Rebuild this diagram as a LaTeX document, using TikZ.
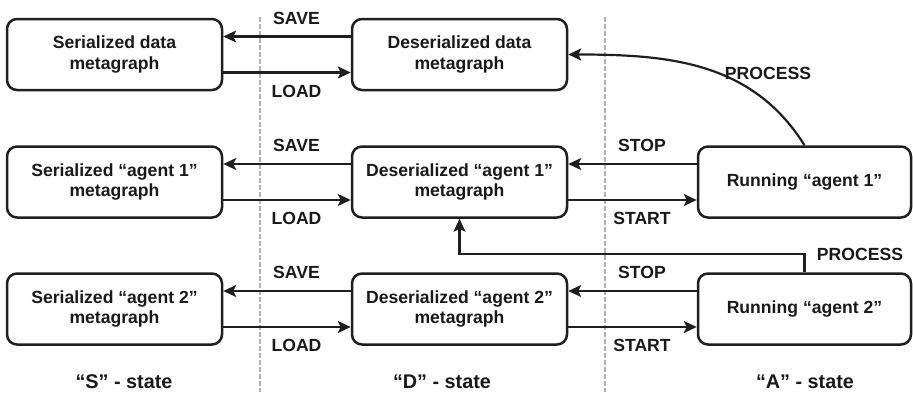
\documentclass[tikz,border=0pt]{standalone}
\usepackage{fontspec}
\setmainfont{Liberation Sans}
\usetikzlibrary{arrows.meta,calc}
\begin{document}
\begin{tikzpicture}[x=1pt,y=-1pt,
  txt/.style={font=\bfseries\fontsize{17.6}{20.5}\selectfont, text=black!90},
  box/.style={txt, draw=black!88, line width=2.5pt, rounded corners=10pt,
    minimum width=215pt, minimum height=71pt, align=center, inner sep=0pt},
  lbl/.style={txt, inner sep=0pt},
  big/.style={lbl, font=\bfseries\fontsize{19.8}{23}\selectfont},
  arr/.style={draw=black!88, line width=2.2pt, -{Stealth[length=13pt,width=12pt,inset=3pt]}},
  sep/.style={draw=black!30, line width=2.6pt, dash pattern=on 4.5pt off 2.5pt}]
\useasboundingbox (0,0) rectangle (913,392);

% separators
\coordinate (t1) at (260,17); \coordinate (b1) at (260,392);
\coordinate (t2) at (605,17); \coordinate (b2) at (605,392);
\draw[sep] (t1) -- (b1);
\draw[sep] (t2) -- (b2);

% boxes
\node[box] (S1) at (114.5,54.5) {Serialized data\\metagraph};
\node[box] (D1) at (459.5,54.5) {Deserialized data\\metagraph};
\node[box] (S2) at (114.5,182) {Serialized “agent 1”\\metagraph};
\node[box] (D2) at (459.5,182) {Deserialized “agent 1”\\metagraph};
\node[box, minimum width=213pt] (R1) at (804.5,182) {Running “agent 1”};
\node[box] (S3) at (114.5,309) {Serialized “agent 2”\\metagraph};
\node[box] (D3) at (459.5,309) {Deserialized “agent 2”\\metagraph};
\node[box, minimum width=213pt] (R2) at (804.5,309) {Running “agent 2”};

% save / load
\foreach \s/\d in {S1/D1,S2/D2,S3/D3}{
  \draw[arr] ([yshift=18pt]\d.west) -- ([yshift=18pt]\s.east);
  \draw[arr] ([yshift=-18pt]\s.east) -- ([yshift=-18pt]\d.west);
}
% stop / start
\foreach \d/\r in {D2/R1,D3/R2}{
  \draw[arr] ([yshift=18pt]\r.west) -- ([yshift=18pt]\d.east);
  \draw[arr] ([yshift=-18pt]\d.east) -- ([yshift=-18pt]\r.west);
}

% process
\draw[arr] (R1.north) to[out=122,in=0] (D1.east);
\coordinate (pc) at (459.5,254);
\draw[arr] (R2.north) |- (pc) -- (D2.south);

% labels
\node[lbl] (sv1) at (296.5,18) {SAVE};
\node[lbl] (ld1) at (296.5,91) {LOAD};
\node[lbl] (sv2) at (296.5,145) {SAVE};
\node[lbl] (ld2) at (296.5,218) {LOAD};
\node[lbl] (sv3) at (296.5,272.5) {SAVE};
\node[lbl] (ld3) at (296.5,345) {LOAD};
\node[lbl] (st1) at (642,145) {STOP};
\node[lbl] (sa1) at (642,218) {START};
\node[lbl] (st2) at (642,272.5) {STOP};
\node[lbl] (sa2) at (642,345) {START};
\node[lbl] (pr1) at (768,73) {PROCESS};
\node[lbl] (pr2) at (860,254) {PROCESS};
\node[big] (ss) at (124,382) {“S” - state};
\node[big] (ds) at (442,382) {“D” - state};
\node[big] (as) at (805,382) {“A” - state};
\end{tikzpicture}
\end{document}
